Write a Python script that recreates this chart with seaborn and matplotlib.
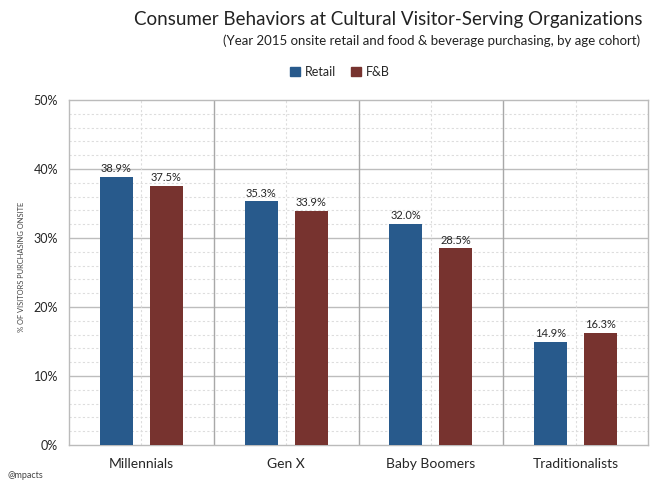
import matplotlib
matplotlib.use("Agg")
import matplotlib.pyplot as plt
import seaborn as sns
import pandas as pd
import numpy as np
from matplotlib.ticker import MultipleLocator, FuncFormatter

categories = ["Millennials", "Gen X", "Baby Boomers", "Traditionalists"]
retail = [38.9, 35.3, 32.0, 14.9]
fnb = [37.5, 33.9, 28.5, 16.3]
series_names = ["Retail", "F&B"]
colors = ["#285A8C", "#77332F"]

df = pd.DataFrame({
    "cohort": categories * 2,
    "value": retail + fnb,
    "series": [series_names[0]] * 4 + [series_names[1]] * 4,
})

sns.set_theme(style="white")
plt.rcParams['font.family'] = ['Lato', 'DejaVu Sans']

fig = plt.figure(figsize=(6.55, 4.84), dpi=100)
ax = fig.add_axes([69/655, 1 - 445/484, (648-69)/655, (445-100)/484])

sns.barplot(data=df, x="cohort", y="value", hue="series", palette=colors,
            width=0.69, gap=0.34, ax=ax, legend=False, saturation=1,
            edgecolor="none", zorder=3)

ax.set_ylim(0, 50)
ax.set_xlim(-0.5, 3.5)
ax.yaxis.set_major_locator(MultipleLocator(10))
ax.yaxis.set_minor_locator(MultipleLocator(2))
ax.yaxis.set_major_formatter(FuncFormatter(lambda v, p: f"{v:.0f}%"))
ax.grid(False)
for y in np.arange(2, 50, 2):
    if y % 10 == 0:
        ax.axhline(y, color="#BDBDBD", lw=1.0, zorder=1)
    else:
        ax.axhline(y, color="#DDDDDD", lw=0.8, ls=(0, (2, 2)), zorder=1)
for x in [0.5, 1.5, 2.5]:
    ax.axvline(x, color="#A8A8A8", lw=1.0, zorder=1)
for x in range(4):
    ax.axvline(x, color="#DDDDDD", lw=0.8, ls=(0, (2, 2)), zorder=1)

for s in ax.spines.values():
    s.set_color("#BBBBBB")
    s.set_linewidth(1.0)

ax.tick_params(axis="y", length=0, labelsize=9, pad=8)
ax.tick_params(axis="x", length=0, labelsize=10, pad=9)
ax.set_xlabel("")
ax.set_ylabel("% OF VISITORS PURCHASING ONSITE", fontsize=5.4, color="#444444")
ax.yaxis.set_label_coords((25 - 69) / 579, (445 - 267) / 345)

for cont in ax.containers:
    ax.bar_label(cont, fmt="%.1f%%", fontsize=8, padding=2)

fig.text(642/655, 1 - 20/484, "Consumer Behaviors at Cultural Visitor-Serving Organizations",
         ha="right", va="center", fontsize=13.5, color="#222222")
fig.text(640/655, 1 - 41/484, "(Year 2015 onsite retail and food & beverage purchasing, by age cohort)",
         ha="right", va="center", fontsize=9.5, color="#222222")

handles = [plt.Rectangle((0, 0), 1, 1, color=c) for c in colors]
fig.legend(handles, series_names, loc="center", bbox_to_anchor=(340/655, 1 - 72/484),
           ncol=2, frameon=False, fontsize=9, handlelength=0.8, handleheight=0.8,
           handletextpad=0.4, columnspacing=1.2)

fig.text(8/655, 1 - 475/484, "@mpacts", ha="left", va="center", fontsize=6.5, color="#444444")

fig.savefig("out.png", dpi=100, facecolor="white")
